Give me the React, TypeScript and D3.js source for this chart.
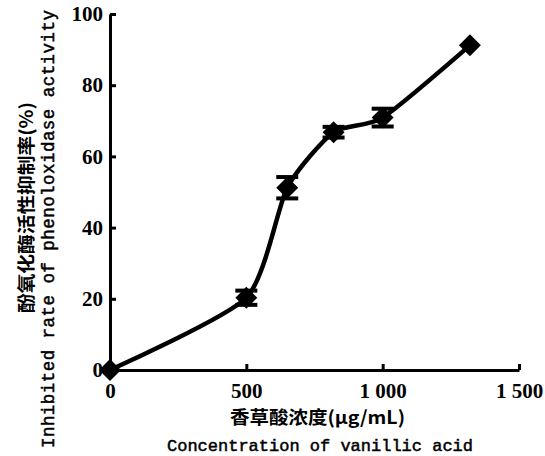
import React, { useEffect, useRef } from "react";
import * as d3 from "d3";

const concentrations = [0, 500, 650, 820, 1000, 1320];
const inhibition = [0, 20.3, 51.2, 66.8, 70.9, 91.2];
const errors = [0, 2, 3, 1.5, 2.5, 0];
const xTicks = [0, 500, 1000, 1500];
const xTickLabels = ["0", "500", "1 000", "1 500"];
const yTicks = [0, 20, 40, 60, 80, 100];

const App = () => {
    const ref = useRef<SVGSVGElement>(null);

    useEffect(() => {
        const svg = d3.select(ref.current);
        svg.selectAll("*").remove();

        const x = d3.scaleLinear().domain([0, 1500]).range([110, 519]);
        const y = d3.scaleLinear().domain([0, 100]).range([370, 14]);

        const data = concentrations.map((c, i) => ({ c, v: inhibition[i], e: errors[i] }));

        // axes
        const xAxis = svg.append("g")
            .attr("transform", `translate(0, ${y(0)})`)
            .call(d3.axisBottom(x).tickValues(xTicks).tickSize(-6).tickSizeOuter(0)
                .tickFormat((d, i) => xTickLabels[i]));
        xAxis.select(".domain").attr("stroke-width", 3);
        xAxis.selectAll(".tick line").attr("stroke-width", 3);
        xAxis.selectAll(".tick text")
            .attr("y", 13)
            .attr("font-family", "Liberation Serif")
            .attr("font-weight", "bold")
            .attr("font-size", 21)
            .attr("fill", "#000");

        const yAxis = svg.append("g")
            .attr("transform", `translate(${x(0)}, 0)`)
            .call(d3.axisLeft(y).tickValues(yTicks).tickSize(-6).tickSizeOuter(0));
        yAxis.select(".domain").attr("stroke-width", 3);
        yAxis.selectAll(".tick line").attr("stroke-width", 3);
        yAxis.selectAll(".tick text")
            .attr("x", -7)
            .attr("font-family", "Liberation Serif")
            .attr("font-weight", "bold")
            .attr("font-size", 21)
            .attr("fill", "#000");
        svg.selectAll(".domain, .tick line").attr("stroke", "#000");

        // curve
        const line = d3.line<{ c: number; v: number }>()
            .x(d => x(d.c))
            .y(d => y(d.v))
            .curve(d3.curveCardinal.tension(0.35));
        svg.append("path")
            .datum(data)
            .attr("fill", "none")
            .attr("stroke", "#000")
            .attr("stroke-width", 4.5)
            .attr("d", line);

        // error bars
        const eb = svg.append("g").selectAll("g")
            .data(data.filter(d => d.e > 0))
            .join("g");
        eb.append("line")
            .attr("x1", d => x(d.c)).attr("x2", d => x(d.c))
            .attr("y1", d => y(d.v - d.e)).attr("y2", d => y(d.v + d.e))
            .attr("stroke", "#000").attr("stroke-width", 3);
        [-1, 1].forEach(s => {
            eb.append("line")
                .attr("x1", d => x(d.c) - 11).attr("x2", d => x(d.c) + 11)
                .attr("y1", d => y(d.v + s * d.e)).attr("y2", d => y(d.v + s * d.e))
                .attr("stroke", "#000").attr("stroke-width", 4);
        });

        // markers
        svg.append("g").selectAll("path")
            .data(data)
            .join("path")
            .attr("d", d3.symbol(d3.symbolSquare, 240)())
            .attr("transform", d => `translate(${x(d.c)}, ${y(d.v)}) rotate(45)`)
            .attr("fill", "#000");

        // titles
        svg.append("text")
            .attr("x", 230).attr("y", 424)
            .attr("textLength", 175)
            .attr("lengthAdjust", "spacingAndGlyphs")
            .attr("font-family", "Noto Sans CJK SC")
            .attr("font-weight", "bold")
            .attr("font-size", 18)
            .text("香草酸浓度(μg/mL)");
        svg.append("text")
            .attr("x", 167).attr("y", 451)
            .attr("textLength", 306)
            .attr("font-family", "Liberation Mono")
            .attr("font-size", 17)
            .attr("stroke", "#000")
            .attr("stroke-width", 0.5)
            .text("Concentration of vanillic acid");

        svg.append("text")
            .attr("transform", "translate(33, 313) rotate(-90)")
            .attr("textLength", 211)
            .attr("lengthAdjust", "spacingAndGlyphs")
            .attr("font-family", "Noto Sans CJK SC")
            .attr("font-weight", "bold")
            .attr("font-size", 18)
            .text("酚氧化酶活性抑制率(%)");
        svg.append("text")
            .attr("transform", "translate(54, 448) rotate(-90)")
            .attr("textLength", 438)
            .attr("font-family", "Liberation Mono")
            .attr("font-size", 17.5)
            .attr("stroke", "#000")
            .attr("stroke-width", 0.5)
            .text("Inhibited rate of phenoloxidase activity");
    }, []);

    return (
        <svg ref={ref} width={545} height={456}
            style={{ position: "absolute", left: 0, top: 0, background: "#fff" }} />
    );
};

export default App;
